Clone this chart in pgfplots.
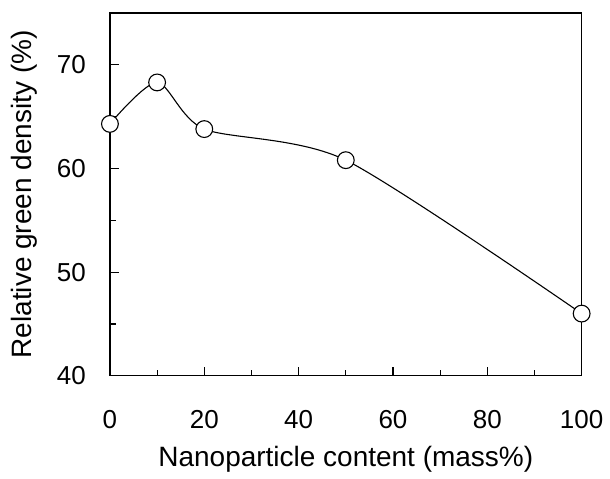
\documentclass[border=0pt]{standalone}
\usepackage{pgfplots}
\pgfplotsset{compat=1.18}
\usepackage{fontspec}
\setmainfont{Liberation Sans}
\begin{document}
\begin{tikzpicture}
\begin{axis}[
    scale only axis,
    width=236pt, height=181.5pt,
    xmin=0, xmax=100, ymin=40, ymax=75,
    xtick={0,20,...,100}, ytick={40,50,60,70},
    minor xtick={10,30,...,90}, minor ytick={45,55,65,75},
    xtick pos=left, ytick pos=left,
    major tick length=4.5pt, minor tick length=3pt,
    tick style={black, line width=0.6pt},
    axis line style={line width=0.7pt},
    /pgf/number format/assume math mode=true,
    tick label style={font=\fontsize{13}{15}\selectfont},
    label style={font=\fontsize{14}{16}\selectfont},
    xlabel={Nanoparticle content (mass\%)},
    ylabel={Relative green density (\%)},
    xticklabel style={yshift=-14pt},
    yticklabel style={xshift=-8.5pt},
    xlabel style={yshift=-1.5pt},
    ylabel style={yshift=3pt},
    clip=false,
]
\addplot[black, line width=0.55pt, smooth, tension=0.45,
    mark=*, mark size=4.2pt, mark options={fill=white, line width=0.55pt}]
coordinates {
    (0,64.3) (10,68.3) (20,63.8) (50,60.8) (100,46.0)
};
\coordinate (bl) at (rel axis cs:0,0);
\coordinate (tr) at (rel axis cs:1,1);
\end{axis}
\path[use as bounding box] ([shift={(-55pt,-48pt)}]bl) rectangle ([shift={(14pt,6.5pt)}]tr);
\end{tikzpicture}
\end{document}
